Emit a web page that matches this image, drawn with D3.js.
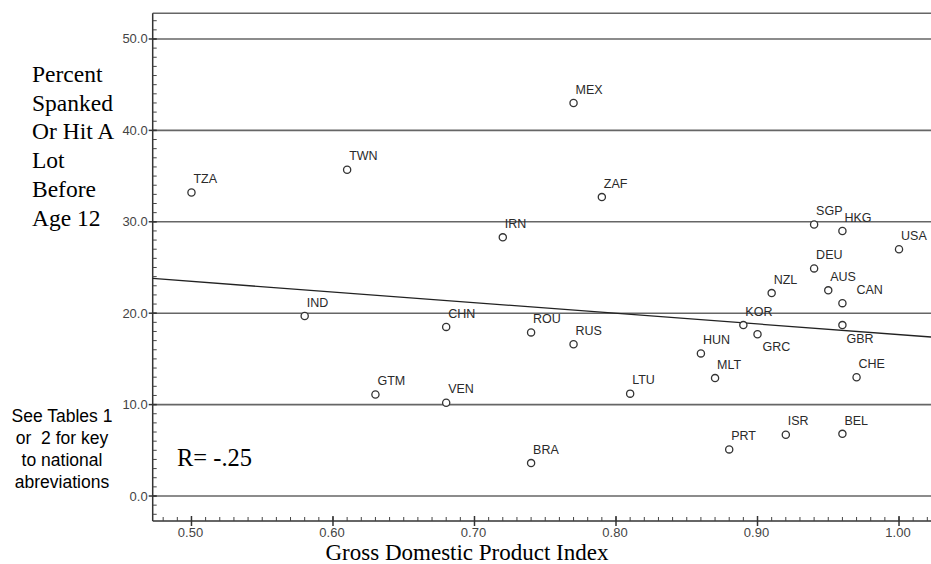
<!DOCTYPE html>
<html>
<head>
    <title>Spanking vs GDP Index</title>
    <script src="https://d3js.org/d3.v7.min.js"></script>
    <style>
        body { margin: 0; background: #fff; }
        svg { display: block; }
        .tick-label { font-family: Arial, "Liberation Sans", sans-serif; font-size: 13px; fill: #444; }
        .pt-label { font-family: Arial, "Liberation Sans", sans-serif; font-size: 12.5px; fill: #2a2a2a; }
        .serif { font-family: "Times New Roman", "Liberation Serif", serif; fill: #000; }
        .note { font-family: Arial, "Liberation Sans", sans-serif; font-size: 17.5px; fill: #000; white-space: pre; }
    </style>
</head>
<body>
<svg width="931" height="564"></svg>
<script>
    // country codes, GDP index, percent spanked
    const countries = ["TZA","TWN","MEX","ZAF","IRN","IND","CHN","ROU","RUS","GTM","VEN","LTU","BRA",
                       "SGP","HKG","USA","DEU","NZL","AUS","CAN","KOR","GBR","GRC","HUN","MLT","CHE","PRT","ISR","BEL"];
    const gdpIndex  = [0.50,0.61,0.77,0.79,0.72,0.58,0.68,0.74,0.77,0.63,0.68,0.81,0.74,
                       0.94,0.96,1.00,0.94,0.91,0.95,0.96,0.89,0.96,0.90,0.86,0.87,0.97,0.88,0.92,0.96];
    const spanked   = [33.2,35.7,43.0,32.7,28.3,19.7,18.5,17.9,16.6,11.1,10.2,11.2,3.6,
                       29.7,29.0,27.0,24.9,22.2,22.5,21.1,18.7,18.7,17.7,15.6,12.9,13.0,5.1,6.7,6.8];

    const yTicks = [0, 10, 20, 30, 40, 50];
    const xTicks = [0.50, 0.60, 0.70, 0.80, 0.90, 1.00];
    const fitIntercept = 29.3;
    const fitSlope = -11.64;

    const yTitle = ["Percent", "Spanked", "Or Hit A", "Lot", "Before", "Age 12"];
    const noteLines = ["See Tables 1", "or  2 for key", "to national", "abreviations"];

    const svg = d3.select("svg");
    const pLeft = 152.7, pTop = 13.3, pRight = 931, pBottom = 521;

    const x = d3.scaleLinear().domain([0.4726, 1.0226]).range([pLeft, pRight]);
    const y = d3.scaleLinear().domain([-2.735, 52.81]).range([pBottom, pTop]);

    // gridlines + top frame
    svg.selectAll(".grid").data(yTicks).enter().append("line")
        .attr("x1", pLeft).attr("x2", pRight)
        .attr("y1", d => y(d)).attr("y2", d => y(d))
        .attr("stroke", "#666").attr("stroke-width", 1.6);
    svg.append("line").attr("x1", pLeft).attr("x2", pRight).attr("y1", pTop).attr("y2", pTop)
        .attr("stroke", "#666").attr("stroke-width", 1.6);

    // axes lines
    svg.append("line").attr("x1", pLeft).attr("x2", pLeft).attr("y1", pTop).attr("y2", pBottom)
        .attr("stroke", "#333").attr("stroke-width", 1.5);
    svg.append("line").attr("x1", pLeft).attr("x2", pRight).attr("y1", pBottom).attr("y2", pBottom)
        .attr("stroke", "#333").attr("stroke-width", 1.5);

    // minor ticks
    const yMinor = d3.range(-2, 53, 1);
    svg.selectAll(".ym").data(yMinor).enter().append("line")
        .attr("x1", pLeft).attr("x2", pLeft + 4)
        .attr("y1", d => y(d)).attr("y2", d => y(d))
        .attr("stroke", "#444").attr("stroke-width", 1);
    const xMinor = d3.range(48, 103, 1).map(d => d / 100);
    svg.selectAll(".xm").data(xMinor).enter().append("line")
        .attr("x1", d => x(d)).attr("x2", d => x(d))
        .attr("y1", pBottom).attr("y2", pBottom - 4)
        .attr("stroke", "#444").attr("stroke-width", 1);

    // major ticks
    svg.selectAll(".yM").data(yTicks).enter().append("line")
        .attr("x1", pLeft - 4).attr("x2", pLeft + 4)
        .attr("y1", d => y(d)).attr("y2", d => y(d))
        .attr("stroke", "#333").attr("stroke-width", 1.5);
    svg.selectAll(".xM").data(xTicks).enter().append("line")
        .attr("x1", d => x(d)).attr("x2", d => x(d))
        .attr("y1", pBottom - 5).attr("y2", pBottom + 5)
        .attr("stroke", "#333").attr("stroke-width", 1.5);

    svg.selectAll(".yl").data(yTicks).enter().append("text")
        .attr("class", "tick-label")
        .attr("x", pLeft - 5).attr("y", d => y(d) + 4.5)
        .attr("text-anchor", "end")
        .text(d => d3.format(".1f")(d));
    svg.selectAll(".xl").data(xTicks).enter().append("text")
        .attr("class", "tick-label")
        .attr("x", d => x(d) - 1).attr("y", 537)
        .attr("text-anchor", "middle")
        .text(d => d3.format(".2f")(d));

    // fit line
    const xd = x.domain();
    svg.append("line")
        .attr("x1", x(xd[0])).attr("y1", y(fitIntercept + fitSlope * xd[0]))
        .attr("x2", x(xd[1])).attr("y2", y(fitIntercept + fitSlope * xd[1]))
        .attr("stroke", "#222").attr("stroke-width", 1.3);

    // points
    const pts = countries.map((c, i) => ({ code: c, gx: gdpIndex[i], sp: spanked[i] }));
    svg.selectAll(".pt").data(pts).enter().append("circle")
        .attr("cx", d => x(d.gx)).attr("cy", d => y(d.sp))
        .attr("r", 3.6)
        .attr("fill", "#fff").attr("stroke", "#333").attr("stroke-width", 1.3);

    // label placement tweaks
    const labelShift = { CAN: [14, -9], GBR: [4, 18], GRC: [5, 17] };
    svg.selectAll(".pl").data(pts).enter().append("text")
        .attr("class", "pt-label")
        .attr("x", d => x(d.gx) + (labelShift[d.code] ? labelShift[d.code][0] : 2))
        .attr("y", d => y(d.sp) + (labelShift[d.code] ? labelShift[d.code][1] : -9.3))
        .text(d => d.code);

    // left title
    svg.selectAll(".yt").data(yTitle).enter().append("text")
        .attr("class", "serif")
        .attr("x", 32).attr("y", (d, i) => 81.7 + i * 28.8)
        .style("font-size", "23.5px")
        .text(d => d);

    // note
    svg.selectAll(".nt").data(noteLines).enter().append("text")
        .attr("class", "note")
        .attr("x", 62).attr("y", (d, i) => 422 + i * 22)
        .attr("text-anchor", "middle")
        .text(d => d);

    svg.append("text").attr("class", "serif")
        .attr("x", 177).attr("y", 466)
        .style("font-size", "24.5px")
        .text("R= -.25");

    svg.append("text").attr("class", "serif")
        .attr("x", 467).attr("y", 559.5)
        .attr("text-anchor", "middle")
        .style("font-size", "23px")
        .text("Gross Domestic Product Index");
</script>
</body>
</html>
